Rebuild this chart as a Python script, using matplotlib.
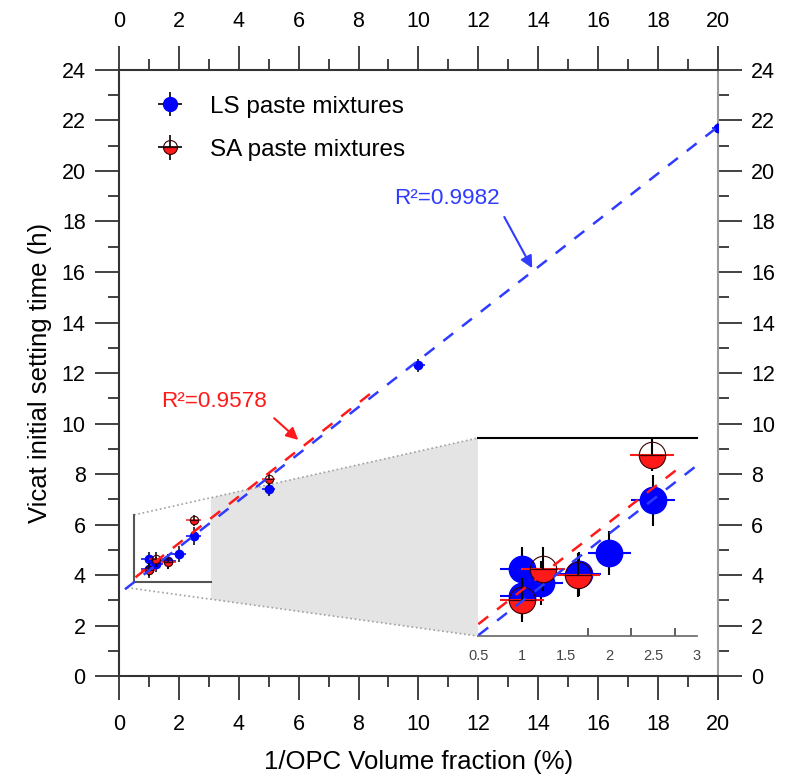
import numpy as np
import matplotlib.pyplot as plt
from matplotlib.ticker import MultipleLocator, FixedLocator

plt.rcParams['font.family'] = ['Liberation Sans', 'DejaVu Sans']

# ========== data ==========
ls_x = [1.0, 1.22, 1.0, 1.65, 2.0, 2.5, 5.0, 10.0, 20.0]
ls_y = [4.62, 4.42, 4.25, 4.55, 4.83, 5.55, 7.4, 12.3, 21.7]
ls_xerr = [0.25, 0.25, 0.25, 0.25, 0.25, 0.25, 0.22, 0.22, 0.2]
ls_yerr = [0.3, 0.3, 0.3, 0.3, 0.3, 0.35, 0.27, 0.26, 0.2]

sa_x = [1.0, 1.24, 1.64, 2.49, 5.0]
sa_y = [4.19, 4.62, 4.53, 6.17, 7.8]
sa_xerr = [0.25, 0.25, 0.25, 0.25, 0.22]
sa_yerr = [0.3, 0.3, 0.3, 0.22, 0.27]

# linear fits (slope, intercept) and drawn x-range
ls_fit = (0.925, 3.25)
ls_fit_range = (0.2, 20.0)
sa_fit = (0.927, 3.40)
sa_fit_range = (0.55, 8.6)

ls_r2 = 'R²=0.9982'
sa_r2 = 'R²=0.9578'

BLUE = '#0000ff'
LINE_BLUE = '#2f3cff'
RED = '#ff1a1a'
DARK = '#333333'


def draw_series(a, ms, elw):
    # LS: blue x-bars, black y-bars, blue dots
    a.errorbar(ls_x, ls_y, xerr=ls_xerr, fmt='none', ecolor=BLUE, elinewidth=elw, zorder=3)
    a.errorbar(ls_x, ls_y, yerr=ls_yerr, fmt='none', ecolor='black', elinewidth=elw, zorder=3)
    a.plot(ls_x, ls_y, 'o', color=BLUE, ms=ms, mec=BLUE, zorder=4)
    # SA: red x-bars, black y-bars, half-filled circles
    a.errorbar(sa_x, sa_y, xerr=sa_xerr, fmt='none', ecolor=RED, elinewidth=elw, zorder=5)
    a.errorbar(sa_x, sa_y, yerr=sa_yerr, fmt='none', ecolor='black', elinewidth=elw, zorder=5)
    a.plot(sa_x, sa_y, 'o', ms=ms, fillstyle='bottom', mfc=RED, mfcalt='none',
           mec='#3a0000', mew=0.8, zorder=6)


def draw_fits(a, ls_rng, sa_rng, lw):
    xs = np.linspace(*sa_rng, 50)
    a.plot(xs, sa_fit[0] * xs + sa_fit[1], color=RED, lw=lw, dashes=(5, 4.5), zorder=7)
    xb = np.linspace(*ls_rng, 50)
    a.plot(xb, ls_fit[0] * xb + ls_fit[1], color=LINE_BLUE, lw=lw, dashes=(5, 4.5), zorder=7)


fig = plt.figure(figsize=(7.88, 7.81), dpi=100)
ax = fig.add_axes([0.151, 0.1344, 0.760, 0.776])

draw_series(ax, ms=6, elw=1.1)
draw_fits(ax, ls_fit_range, sa_fit_range, lw=1.8)

ax.set_xlim(0, 20)
ax.set_ylim(0, 24)
ax.xaxis.set_major_locator(MultipleLocator(2))
ax.xaxis.set_minor_locator(MultipleLocator(1))
ax.yaxis.set_major_locator(MultipleLocator(2))
ax.yaxis.set_minor_locator(MultipleLocator(1))
ax.tick_params(which='both', direction='out', top=True, right=True,
               labeltop=True, labelright=True, color=DARK, width=1.3)
ax.tick_params(which='major', length=17, labelsize=15.5)
ax.tick_params(which='minor', length=8)
ax.tick_params(axis='x', pad=10)
ax.tick_params(axis='y', pad=7)
for s in ['left', 'bottom', 'top']:
    ax.spines[s].set_color(DARK)
    ax.spines[s].set_linewidth(1.5)
ax.spines['right'].set_color('#9a9a9a')
ax.spines['right'].set_linewidth(1.5)

ax.set_xlabel('1/OPC Volume fraction (%)', fontsize=18.5, labelpad=11)
ax.set_ylabel('Vicat initial setting time (h)', fontsize=18.5, labelpad=7)

# ========== zoom box + shaded connector ==========
box_x = (0.5, 3.07)
box_y = (3.72, 6.38)
ins = (12.0, 1.58, 7.3, 7.85)  # inset bounds in data units
top_a, top_b = (0.5, 6.38), (ins[0], ins[1] + ins[3])
bot_a, bot_b = (0.27, 3.5), (ins[0], ins[1])


def on_line(p, q, x):
    return p[1] + (q[1] - p[1]) * (x - p[0]) / (q[0] - p[0])


gx = box_x[1]
ax.fill([gx, top_b[0], bot_b[0], gx],
        [on_line(top_a, top_b, gx), top_b[1], bot_b[1], on_line(bot_a, bot_b, gx)],
        color='#e4e4e4', lw=0, zorder=0.5)
ax.plot([top_a[0], top_b[0]], [top_a[1], top_b[1]], ls=':', color='#a0a0a0', lw=1.2, zorder=1)
ax.plot([bot_a[0], bot_b[0]], [bot_a[1], bot_b[1]], ls=':', color='#a0a0a0', lw=1.2, zorder=1)
ax.plot([box_x[0], box_x[0], box_x[1]], [box_y[1], box_y[0], box_y[0]],
        color='#555555', lw=1.5, zorder=1)

axin = ax.inset_axes(list(ins), transform=ax.transData)
draw_series(axin, ms=19, elw=1.5)
draw_fits(axin, (0.5, 3.0), (0.5, 2.85), lw=1.8)
axin.set_xlim(0.5, 3.0)
axin.set_ylim(3.7, 6.4)
axin.set_yticks([])
axin.set_xticks([0.5, 1, 1.5, 2, 2.5, 3])
axin.set_xticklabels(['0.5', '1', '1.5', '2', '2.5', '3'])
axin.xaxis.set_minor_locator(FixedLocator([1.75, 2.25, 2.75]))
axin.tick_params(axis='x', which='major', length=0, labelsize=10.5, pad=9, labelcolor='#444444')
axin.tick_params(axis='x', which='minor', direction='in', length=6, width=1.2, color='#444444')
axin.spines['left'].set_visible(False)
axin.spines['right'].set_visible(False)
axin.spines['top'].set_color('black')
axin.spines['top'].set_linewidth(1.5)
axin.spines['bottom'].set_color('#666666')
axin.spines['bottom'].set_linewidth(1.2)

# ========== R² annotations ==========
ax.annotate(sa_r2, xy=(5.99, 9.35), xytext=(1.42, 10.87), color=RED, fontsize=16.2,
            va='center', ha='left',
            arrowprops=dict(arrowstyle='-|>', color=RED, lw=1.5, mutation_scale=18,
                            relpos=(1, 0), shrinkA=4, shrinkB=0))
ax.annotate(ls_r2, xy=(13.8, 16.15), xytext=(9.2, 18.9), color=LINE_BLUE, fontsize=16.2,
            va='center', ha='left',
            arrowprops=dict(arrowstyle='-|>', color=LINE_BLUE, lw=1.5, mutation_scale=18,
                            relpos=(1, 0), shrinkA=4, shrinkB=0))

# ========== legend ==========
h_ls = ax.errorbar([], [], xerr=[], yerr=[], fmt='o', color=BLUE, ms=10, ecolor='black',
                   elinewidth=1.2, label='LS paste mixtures')
h_sa = ax.errorbar([], [], xerr=[], yerr=[], fmt='o', ms=10, fillstyle='bottom', mfc=RED,
                   mfcalt='none', mec='#3a0000', mew=0.8, ecolor='black', elinewidth=1.2,
                   label='SA paste mixtures')
ax.legend(handles=[h_ls, h_sa], loc='upper left', bbox_to_anchor=(0.0406, 0.9736),
          frameon=False, fontsize=17.5, handlelength=1.4, handletextpad=0.95,
          labelspacing=0.87, borderaxespad=0)

fig.savefig('out.png', dpi=100)
